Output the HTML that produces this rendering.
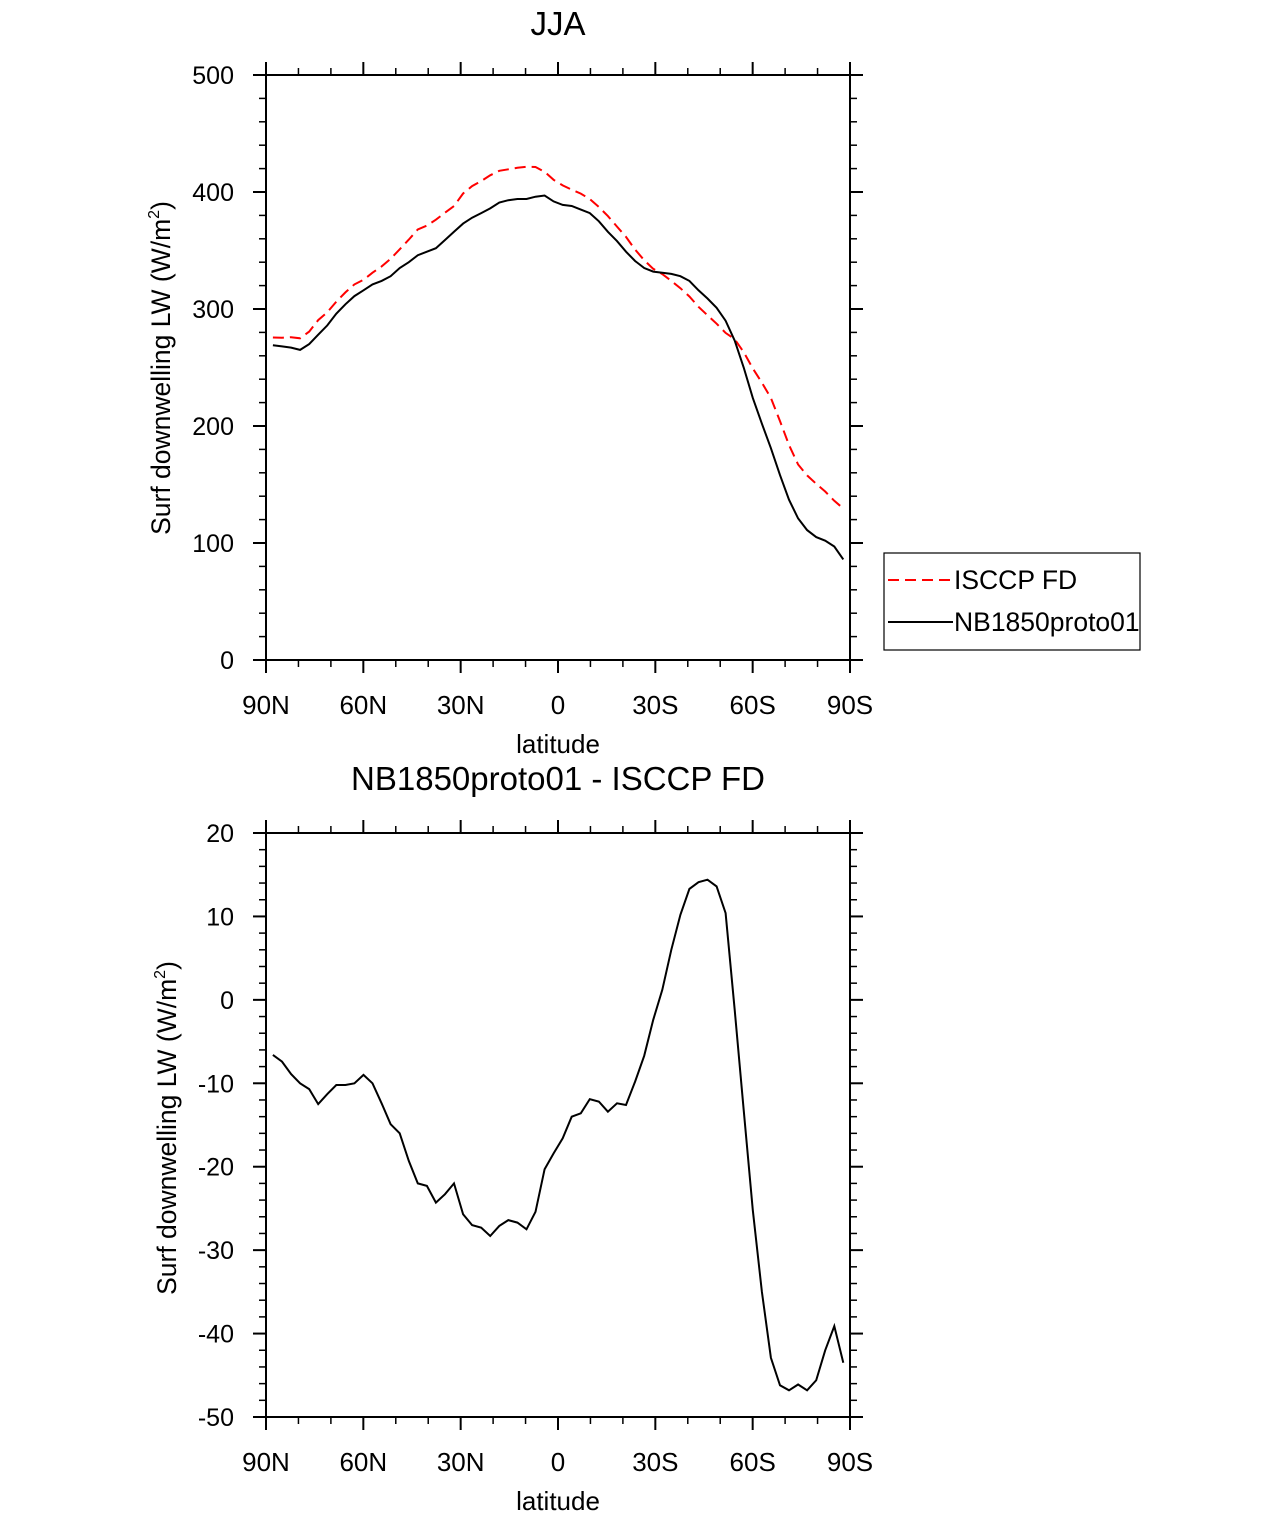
<!DOCTYPE html>
<html><head><meta charset="utf-8"><style>
body{margin:0;background:#fff}
svg{display:block;font-family:"Liberation Sans",sans-serif}
</style></head><body>
<svg id="s" width="1285" height="1517"></svg>
<script>
const lats=[];for(let i=0;i<64;i++)lats.push(87.86-i*2.7906);
const modelVals=[269,268,267,265,270,278,286,296,304,311,316,321,324,328,335,340,346,349,352,359,366,373,378,382,386,391,393,394,394,396,397,392,389,388,385,382,375,366,358,349,341,335,332,331,330,328,324,316,309,301,290,273,250,224,202,181,158,137,121,111,105,102,97,86];
const obsVals=[275.6,275.4,275.9,275,280.7,290.5,297.3,306.2,314.2,321,325,331,336.4,342.9,351,359.3,368,371.3,376.3,382.3,388,398.7,405,409.3,414.3,418.1,419.4,420.7,421.5,421.4,417.3,410.4,405.6,402,398.6,393.9,387.2,379.4,370.4,361.6,350.8,341.7,334.4,329.8,324,317.8,310.7,301.9,294.6,287.4,279.6,274.2,263.2,249.2,237,223.9,204.2,183.8,167.1,157.8,150.6,144,136.1,129.5];
const diffVals=[-6.6,-7.4,-8.9,-10,-10.7,-12.5,-11.3,-10.2,-10.2,-10,-9,-10,-12.4,-14.9,-16,-19.3,-22,-22.3,-24.3,-23.3,-22,-25.7,-27,-27.3,-28.3,-27.1,-26.4,-26.7,-27.5,-25.4,-20.3,-18.4,-16.6,-14,-13.6,-11.9,-12.2,-13.4,-12.4,-12.6,-9.8,-6.7,-2.4,1.2,6,10.2,13.3,14.1,14.4,13.6,10.4,-1.2,-13.2,-25.2,-35,-42.9,-46.2,-46.8,-46.1,-46.8,-45.6,-42,-39.1,-43.5];
const xTickVals=[90,60,30,0,-30,-60,-90];
const xTickLabels=["90N","60N","30N","0","30S","60S","90S"];
const topYTicks=[0,100,200,300,400,500];
const botYTicks=[-50,-40,-30,-20,-10,0,10,20];

const svg=document.getElementById('s');const NS='http://www.w3.org/2000/svg';
function el(t,a,p){const e=document.createElementNS(NS,t);for(const k in a)e.setAttribute(k,a[k]);(p||svg).appendChild(e);return e;}
function txt(x,y,s,size,anchor,name,p){const t=el('text',{x:x,y:y,'font-size':size,'text-anchor':anchor||'middle'},p);t.textContent=s;


return t;}
const X0=266,X1=850;
function xs(lat){return X0+(90-lat)/180*(X1-X0);}

function panel(top,bot,ymin,ymax,ticks,minorStep,name){
  const g=el('g',{});
  
  
  const ys=v=>bot-(v-ymin)/(ymax-ymin)*(bot-top);
  el('rect',{x:X0,y:top,width:X1-X0,height:bot-top,fill:'none',stroke:'#000','stroke-width':2},g);
  for(let l=90;l>=-90;l-=10){const x=xs(l),maj=l%30==0,L=maj?13:7;
    el('line',{x1:x,y1:bot,x2:x,y2:bot+L,stroke:'#000','stroke-width':maj?2:1.5},g);
    el('line',{x1:x,y1:top,x2:x,y2:top-L,stroke:'#000','stroke-width':maj?2:1.5},g);}
  for(let v=ymin;v<=ymax+1e-9;v+=minorStep){const y=ys(v),maj=ticks.some(t=>Math.abs(t-v)<1e-6),L=maj?13:7;
    el('line',{x1:X0,y1:y,x2:X0-L,y2:y,stroke:'#000','stroke-width':maj?2:1.5},g);
    el('line',{x1:X1,y1:y,x2:X1+L,y2:y,stroke:'#000','stroke-width':maj?2:1.5},g);}
  ticks.forEach(v=>txt(X0-32,ys(v)+9,String(v),25,'end','y-tick-label',g));
  xTickVals.forEach((l,i)=>txt(xs(l),bot+54,xTickLabels[i],26,'middle','x-tick-label',g));
  txt(558,bot+93,'latitude',26,'middle','x-axis-title',g);
  return ys;
}
function line(vals,ys,attrs,name){
  const d=vals.map((v,i)=>(i?'L':'M')+xs(lats[i]).toFixed(1)+','+ys(v).toFixed(1)).join('');
  const p=el('path',Object.assign({d:d,fill:'none'},attrs));
  
  
}
// top
txt(558,35,'JJA',33,'middle','top-chart-title');
const ys1=panel(75,660,0,500,topYTicks,20,'top-panel');
line(obsVals,ys1,{stroke:'#f00','stroke-width':2,'stroke-dasharray':'11,6'},'isccp-line');
line(modelVals,ys1,{stroke:'#000','stroke-width':2},'model-line');
let t=el('text',{x:0,y:0,'font-size':26.5,'text-anchor':'middle',transform:'translate(170,368) rotate(-90)'});


t.innerHTML='Surf downwelling LW (W/m<tspan font-size="16" dy="-11">2</tspan><tspan dy="11">)</tspan>';
// legend
const lg=el('g',{});


el('rect',{x:884,y:553,width:256,height:97,fill:'#fff',stroke:'#000','stroke-width':1.2},lg);
el('line',{x1:888,y1:580,x2:953,y2:580,stroke:'#f00','stroke-width':2,'stroke-dasharray':'11,6'},lg);
el('line',{x1:888,y1:622,x2:953,y2:622,stroke:'#000','stroke-width':2},lg);
txt(954,589,'ISCCP FD',26.5,'start','legend-entry-isccp',lg);
txt(954,631,'NB1850proto01',26.5,'start','legend-entry-model',lg);
// bottom
txt(558,790,'NB1850proto01 - ISCCP FD',33,'middle','bottom-chart-title');
const ys2=panel(833,1417,-50,20,botYTicks,2,'bottom-panel');
line(diffVals,ys2,{stroke:'#000','stroke-width':2},'difference-line');
t=el('text',{x:0,y:0,'font-size':26.5,'text-anchor':'middle',transform:'translate(176,1128) rotate(-90)'});


t.innerHTML='Surf downwelling LW (W/m<tspan font-size="16" dy="-11">2</tspan><tspan dy="11">)</tspan>';
</script>
</body></html>
